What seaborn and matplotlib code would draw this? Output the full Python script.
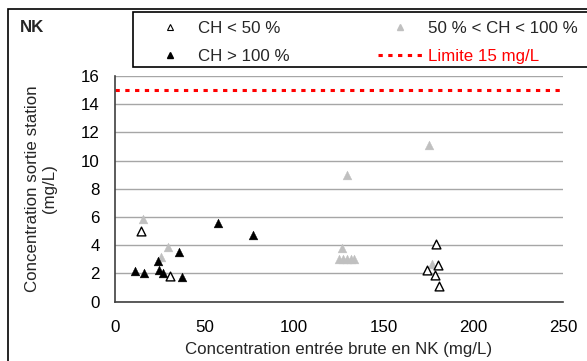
import matplotlib
matplotlib.use("Agg")
import matplotlib.pyplot as plt
import seaborn as sns
import pandas as pd
from matplotlib.lines import Line2D
from matplotlib.patches import Rectangle

# ---- data ----
low_x = [14.6, 30.9, 179.0, 180.4, 174.0, 178.3, 181.0]
low_y = [5.0, 1.8, 4.1, 2.6, 2.25, 1.9, 1.1]
mid_x = [15.7, 29.6, 25.9, 175.4, 129.6, 126.5, 125.0, 127.2, 129.4, 131.7, 133.2, 177.0]
mid_y = [5.85, 3.85, 3.2, 11.1, 9.0, 3.8, 3.0, 3.0, 3.0, 3.0, 3.0, 2.7]
high_x = [57.2, 77.0, 35.6, 24.1, 24.4, 10.9, 16.0, 26.8, 37.6]
high_y = [5.6, 4.75, 3.5, 2.9, 2.25, 2.15, 2.0, 2.0, 1.75]
limit_value = 15
labels = ["CH < 50 %", "50 % < CH < 100 %", "CH > 100 %", "Limite 15 mg/L"]
x_ticks = [0, 50, 100, 150, 200, 250]
y_ticks = [0, 2, 4, 6, 8, 10, 12, 14, 16]

sns.set_style("white")
plt.rcParams['font.family'] = ['Liberation Sans', 'DejaVu Sans']
FS = 12.2

W, H = 587, 361
fig = plt.figure(figsize=(W / 100, H / 100), dpi=100)
ax = fig.add_axes([115 / W, 1 - 301.7 / H, (563 - 115) / W, (301.7 - 76) / H])

df_low = pd.DataFrame({"x": low_x, "y": low_y})
df_mid = pd.DataFrame({"x": mid_x, "y": mid_y})
df_high = pd.DataFrame({"x": high_x, "y": high_y})

ms = 40
sns.scatterplot(data=df_mid, x="x", y="y", ax=ax, marker="^", s=ms, color="#c0c0c0",
                edgecolor="#c0c0c0", linewidth=0.3, zorder=3)
sns.scatterplot(data=df_low, x="x", y="y", ax=ax, marker="^", s=ms, facecolor="white",
                edgecolor="black", linewidth=1.0, zorder=4)
sns.scatterplot(data=df_high, x="x", y="y", ax=ax, marker="^", s=ms, color="black",
                edgecolor="black", linewidth=0.3, zorder=4)
ax.axhline(limit_value, color="#ff0000", lw=2.2, linestyle=(0, (1.4, 1.8)), zorder=2)

ax.set_xlim(0, 250)
ax.set_ylim(0, 16)
ax.set_xticks(x_ticks)
ax.set_yticks(y_ticks)
ax.tick_params(axis="both", labelsize=FS, colors="black", direction="out",
               length=5, width=1)
ax.tick_params(axis="y", length=6, pad=5)
ax.tick_params(axis="x", pad=8)
ax.yaxis.grid(True, color="#a6a6a6", lw=1)
ax.xaxis.grid(False)
for s in ["top", "right"]:
    ax.spines[s].set_visible(False)
for s in ["left", "bottom"]:
    ax.spines[s].set_color("#404040")
    ax.spines[s].set_linewidth(1.2)
ax.set_xlabel("Concentration entrée brute en NK (mg/L)", fontsize=FS, labelpad=5)
ax.set_ylabel("Concentration sortie station\n(mg/L)", fontsize=FS, labelpad=17)

# outer frame
fig.patches.append(Rectangle((8 / W, -0.05), 1.1, (H - 9) / H + 0.05,
                             transform=fig.transFigure, fill=False,
                             edgecolor="black", lw=1.2))
fig.text(20 / W, 1 - 27 / H, "NK", fontsize=FS, fontweight="bold",
         va="center", ha="left")

# legend frame
fig.patches.append(Rectangle((133 / W, 1 - 67 / H), (620 - 133) / W, 55 / H,
                             transform=fig.transFigure, fill=True, facecolor="white",
                             edgecolor="black", lw=1.2, zorder=5))

handles = [
    Line2D([], [], ls="none", marker="^", markersize=5, markerfacecolor="white",
           markeredgecolor="black", markeredgewidth=0.8),
    Line2D([], [], ls="none", marker="^", markersize=5, color="black"),
    Line2D([], [], ls="none", marker="^", markersize=5, color="#c0c0c0"),
    Line2D([], [], color="#ff0000", lw=2.2, linestyle=(0, (1.4, 1.8))),
]
hl = [labels[0], labels[2], labels[1], labels[3]]
leg = fig.legend(handles, hl, ncol=2, loc="upper left",
                 bbox_to_anchor=(147 / W, 1 - 21 / H),
                 frameon=False, fontsize=FS,
                 handlelength=2.7, handletextpad=0.3, borderaxespad=0,
                 labelspacing=0.75, borderpad=0, columnspacing=5.2)
leg.set_zorder(6)
leg.get_texts()[3].set_color("#ff0000")

fig.savefig("out.png", dpi=100)
